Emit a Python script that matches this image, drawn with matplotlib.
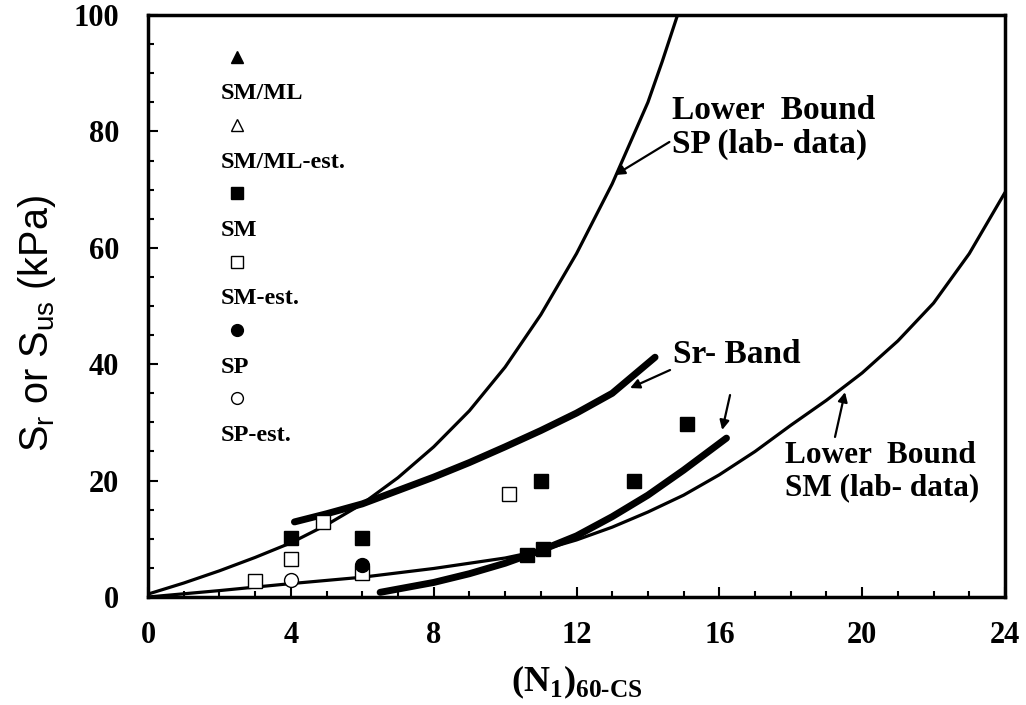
import numpy as np
import matplotlib
matplotlib.use("Agg")
import matplotlib.pyplot as plt
from matplotlib.lines import Line2D

# curves
sp_bound_x = [0, 1, 2, 3, 4, 5, 6, 7, 8, 9, 10, 11, 12, 13, 14, 14.4, 14.83]
sp_bound_y = [0.5, 2.4, 4.5, 6.8, 9.3, 12.4, 16, 20.5, 25.8, 32, 39.5, 48.5, 59, 71, 85, 92, 100]

sm_bound_x = [0, 2, 4, 6, 8, 10, 11, 12, 13, 14, 15, 16, 17, 18, 19, 20, 21, 22, 23, 24]
sm_bound_y = [0, 1.1, 2.3, 3.4, 4.9, 6.7, 8.0, 9.8, 12, 14.6, 17.5, 21, 25, 29.5, 33.8, 38.5, 44, 50.5, 59, 69.5]

band_up_x = [4.1, 5, 6, 7, 8, 9, 10, 11, 12, 13, 14.2]
band_up_y = [12.9, 14.3, 16, 18.3, 20.6, 23.1, 25.8, 28.6, 31.6, 35, 41.2]

band_lo_x = [6.5, 8, 9, 10, 11, 12, 13, 14, 15, 16.2]
band_lo_y = [0.8, 2.5, 4, 5.8, 8, 10.5, 13.8, 17.5, 21.8, 27.3]

# data points
sm_x = [4, 6, 11, 13.6, 15.1, 10.6, 11.05]
sm_y = [10.2, 10.2, 20, 20, 29.8, 7.2, 8.3]
sm_est_x = [3, 4, 4.9, 6, 10.1]
sm_est_y = [2.8, 6.6, 12.9, 4.2, 17.7]
sp_x = [6]
sp_y = [5.5]
sp_est_x = [4]
sp_est_y = [3.0]

plt.rcParams['font.family'] = ['Liberation Serif', 'DejaVu Serif']
plt.rcParams['mathtext.fontset'] = 'custom'
plt.rcParams['mathtext.rm'] = 'Liberation Serif:bold'
plt.rcParams['mathtext.bf'] = 'Liberation Serif:bold'

fig = plt.figure(figsize=(10.26, 7.05), dpi=100)
ax = fig.add_axes([0.1443, 0.1532, 0.8352, 0.8255])

ax.plot(sp_bound_x, sp_bound_y, color='black', lw=2.3, solid_capstyle='round')
ax.plot(sm_bound_x, sm_bound_y, color='black', lw=2.3, solid_capstyle='round')
ax.plot(band_up_x, band_up_y, color='black', lw=5, solid_capstyle='round')
ax.plot(band_lo_x, band_lo_y, color='black', lw=5, solid_capstyle='round')

ax.plot(sm_x, sm_y, ls='none', marker='s', ms=10.5, color='black')
ax.plot(sm_est_x, sm_est_y, ls='none', marker='s', ms=10, mfc='white', mec='black', mew=1)
ax.plot(sp_x, sp_y, ls='none', marker='o', ms=10, color='black')
ax.plot(sp_est_x, sp_est_y, ls='none', marker='o', ms=10, mfc='white', mec='black', mew=1)

# legend: marker on one row, its label on the next
blank = Line2D([], [], ls='none', marker='none')
handles = [
    Line2D([], [], ls='none', marker='^', ms=9, color='black'), blank,
    Line2D([], [], ls='none', marker='^', ms=9, mfc='white', mec='black', mew=1), blank,
    Line2D([], [], ls='none', marker='s', ms=8.5, color='black'), blank,
    Line2D([], [], ls='none', marker='s', ms=8.5, mfc='white', mec='black', mew=1), blank,
    Line2D([], [], ls='none', marker='o', ms=8.5, color='black'), blank,
    Line2D([], [], ls='none', marker='o', ms=8.5, mfc='white', mec='black', mew=1), blank,
]
labels = ['', 'SM/ML', '', 'SM/ML-est.', '', 'SM', '', 'SM-est.', '', 'SP', '', 'SP-est.']
ax.legend(handles, labels, loc='upper left', bbox_to_anchor=(0.09, 0.943),
          frameon=False, handlelength=1.0, handletextpad=-1.2,
          labelspacing=0.5, borderpad=0, borderaxespad=0,
          prop={'family': 'Liberation Serif', 'weight': 'bold', 'size': 17.5})

lab = dict(fontsize=24, fontweight='bold')
arrow = dict(arrowstyle='-|>', color='black', lw=1.6, mutation_scale=14, shrinkA=0, shrinkB=0)
ax.annotate('Lower  Bound\nSP (lab- data)', xy=(13.08, 72.5), xytext=(14.68, 80.7),
            ha='left', va='center', linespacing=1.1, **lab,
            arrowprops=dict(arrow, relpos=(0, 0.3)))
ax.text(14.7, 41.6, 'Sr- Band', ha='left', va='center', **lab)
ax.annotate('', xy=(13.5, 35.9), xytext=(14.62, 39), arrowprops=arrow)
ax.annotate('', xy=(16.08, 28.7), xytext=(16.3, 34.7), arrowprops=arrow)
ax.annotate('', xy=(19.52, 35.2), xytext=(19.24, 27.5), arrowprops=arrow)
ax.text(17.84, 21.6, 'Lower  Bound\nSM (lab- data)', ha='left', va='center',
        linespacing=1.15, fontsize=22.5, fontweight='bold')

ax.set_xlim(0, 24)
ax.set_ylim(0, 100)
ax.set_xticks(np.arange(0, 25, 4))
ax.set_yticks(np.arange(0, 101, 20))
ax.set_xticks(np.arange(0, 25, 1), minor=True)
ax.set_yticks(np.arange(0, 101, 5), minor=True)
ax.tick_params(which='both', direction='in', top=False, right=False, width=1.5)
ax.tick_params(which='major', length=7)
ax.tick_params(which='minor', length=4)
ax.tick_params(axis='x', pad=17)
ax.tick_params(axis='y', pad=21)
for t in ax.get_xticklabels() + ax.get_yticklabels():
    t.set_fontsize(22)
    t.set_fontweight('bold')
for s in ax.spines.values():
    s.set_linewidth(2.5)

ax.set_xlabel('(N$_\\mathregular{1}$)$_\\mathregular{60\\text{-}CS}$', fontsize=26,
              fontweight='bold', labelpad=10)
ax.set_ylabel('S$_\\mathregular{r}$ or S$_\\mathregular{us}$ (kPa)', fontsize=28.5,
              family='Liberation Sans')
ax.yaxis.set_label_coords(-0.105, 0.469)

fig.savefig('out.png', dpi=100)
